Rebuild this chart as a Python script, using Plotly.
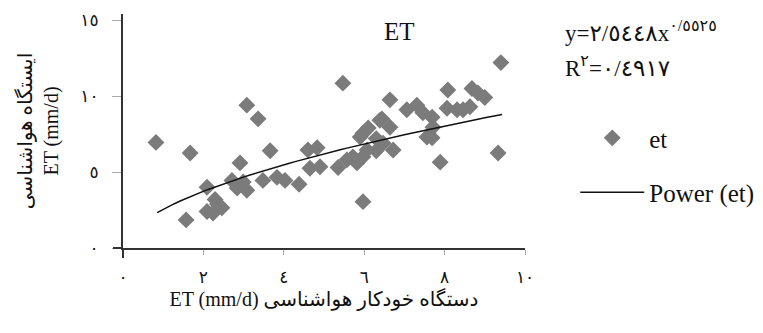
import plotly.graph_objects as go

# Scatter data (x: automatic station ET, y: weather station ET)
et_x = [0.82, 1.67, 1.57, 2.09, 2.09, 2.29, 2.46, 2.24, 2.35, 2.71, 2.84, 2.99, 3.08,
        2.91, 3.08, 3.36, 3.48, 3.66, 3.83, 4.03, 4.38, 4.60, 4.83, 4.65, 4.90, 5.47,
        5.35, 5.57, 5.72, 5.97, 5.82, 5.97, 6.07, 5.97, 5.90, 6.10, 6.30, 6.39, 6.44,
        6.64, 6.47, 6.72, 6.64, 6.30, 7.06, 7.31, 7.46, 7.69, 7.71, 7.69, 7.56, 7.89,
        8.08, 8.06, 8.31, 8.46, 8.63, 8.68, 8.83, 9.00, 9.33, 9.40]
et_y = [6.95, 6.25, 1.85, 4.00, 2.40, 3.20, 2.65, 2.30, 2.90, 4.45, 3.95, 4.35, 3.80,
        5.60, 9.40, 8.50, 4.45, 6.40, 4.65, 4.45, 4.20, 6.45, 6.60, 5.25, 5.35, 10.85,
        5.30, 5.80, 6.00, 3.05, 5.60, 6.00, 6.45, 7.55, 7.30, 7.90, 7.20, 8.40, 8.50,
        9.75, 6.90, 6.45, 7.95, 6.40, 9.10, 9.40, 8.90, 8.60, 7.95, 7.25, 7.30, 5.65,
        10.40, 9.20, 9.10, 9.10, 9.30, 10.50, 10.20, 9.90, 6.25, 12.20]

# Power trendline as printed on the chart: y = 2.5448 x^0.5525
fit_a = 2.5448
fit_b = 0.5525
fit_x = [0.85 + i * (9.43 - 0.85) / 60 for i in range(61)]
fit_y = [fit_a * x ** fit_b for x in fit_x]

x_tickvals = [0, 2, 4, 6, 8, 10]
x_ticktext = ["٠", "٢", "٤", "٦", "٨", "١٠"]
y_tickvals = [0, 5, 10, 15]
y_ticktext = ["٠", "٥", "١٠", "١٥"]

SERIF = "Liberation Serif, Times New Roman, DejaVu Sans, serif"
LRM = "\u200e"

# page body has an 8px margin: the figure is drawn 8px smaller and offset
PW, PH = 402, 234  # plot area size in px

fig = go.Figure()
fig.add_trace(go.Scatter(
    x=et_x, y=et_y, mode="markers", name="et", legendgroup="a",
    marker=dict(symbol="diamond", size=13, color="#7b7b7b", line=dict(width=0)),
))
fig.add_trace(go.Scatter(
    x=fit_x, y=fit_y, mode="lines", name="Power (et)", legendgroup="b",
    line=dict(color="#111111", width=1.5),
))

fig.update_layout(
    width=755, height=325,
    margin=dict(l=115, r=238, t=6, b=85, autoexpand=False),
    paper_bgcolor="white", plot_bgcolor="white",
    font=dict(family=SERIF, color="#111111"),
    showlegend=True,
    legend=dict(
        x=1.125, xanchor="left", y=0.568, yanchor="top",
        itemwidth=64, tracegroupgap=19,
        font=dict(size=25, family=SERIF, color="#111111"),
        bgcolor="rgba(0,0,0,0)",
    ),
    xaxis=dict(
        range=[0, 10], tickvals=x_tickvals, ticktext=x_ticktext,
        showgrid=False, zeroline=False, showline=True, linecolor="#333333", linewidth=2,
        ticks="outside", ticklen=5, tickcolor="#aaaaaa", tickwidth=1,
        ticklabelstandoff=8,
        tickfont=dict(size=17, family="DejaVu Sans, sans-serif", color="#111111"),
        title=dict(text="ET (mm/d) دستگاه خودکار هواشناسی",
                   font=dict(size=20, family=SERIF, color="#111111"), standoff=6),
    ),
    yaxis=dict(
        range=[0, 15.4], tickvals=y_tickvals, ticktext=y_ticktext,
        showgrid=False, zeroline=False, showline=True, linecolor="#333333", linewidth=2,
        ticks="outside", ticklen=9, tickcolor="#aaaaaa", tickwidth=1,
        ticklabelstandoff=10,
        tickfont=dict(size=17, family="DejaVu Sans, sans-serif", color="#111111"),
        title=dict(text="ایستگاه هواشناسی<br>ET (mm/d)",
                   font=dict(size=20, family=SERIF, color="#111111"), standoff=16),
    ),
    shapes=[
        dict(type="line", xref="paper", yref="paper", x0=-10 / PW, x1=0, y0=0, y1=0,
             line=dict(color="#333333", width=2)),
        dict(type="line", xref="paper", yref="paper", x0=0, x1=0, y0=0, y1=-10 / PH,
             line=dict(color="#333333", width=2)),
    ],
    annotations=[
        dict(text="ET", xref="paper", yref="paper", x=(399 - 123) / PW, y=(248 - 32) / PH,
             xanchor="center", yanchor="middle", showarrow=False,
             font=dict(size=25, family=SERIF, color="#111111")),
        dict(text="y=" + LRM + "٢/٥٤٤٨x<sup>٠/٥٥٢٥</sup>", xref="paper", yref="paper",
             x=(563 - 123) / PW, y=(248 - 32) / PH, xanchor="left", yanchor="middle",
             showarrow=False, font=dict(size=23, family=SERIF, color="#111111")),
        dict(text="R<sup>٢</sup>" + LRM + "=" + LRM + "٠/٤٩١٧", xref="paper", yref="paper",
             x=(563 - 123) / PW, y=(248 - 66) / PH, xanchor="left", yanchor="middle",
             showarrow=False, font=dict(size=23, family=SERIF, color="#111111")),
    ],
)

fig.write_html("out.html")
